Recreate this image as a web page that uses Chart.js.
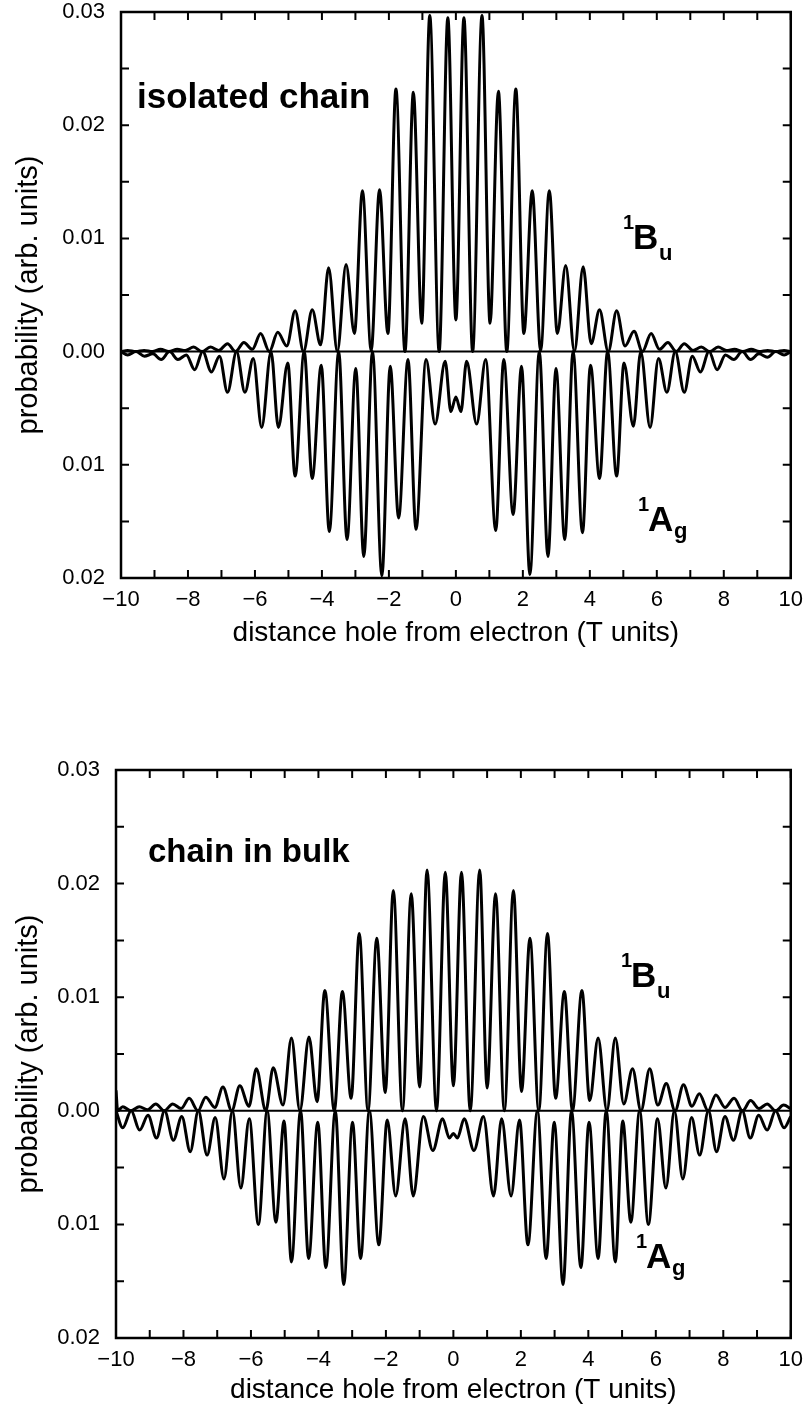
<!DOCTYPE html>
<html>
<head>
<meta charset="utf-8">
<script src="https://cdn.jsdelivr.net/npm/chart.js@4.4.1/dist/chart.umd.min.js"></script>
<style>
  body { margin: 0; background: #fff; width: 812px; height: 1407px; position: relative; overflow: hidden;
         font-family: "Liberation Sans", Arial, Helvetica, sans-serif; }
  .wrap { position: absolute; left: 0; width: 812px; }
  .lbl { position: absolute; font-weight: bold; color: #000; line-height: 1; white-space: nowrap; }
</style>
</head>
<body>
<div class="wrap" style="top:-40px; height:700px;"><canvas id="isoChart"></canvas></div>
<div class="wrap" style="top:720px; height:687px;"><canvas id="bulkChart"></canvas></div>

<div class="lbl" style="left:137px; top:78px; font-size:35px;">isolated chain</div>
<div class="lbl" style="left:623px; top:212px; font-size:20px;">1</div>
<div class="lbl" style="left:633px; top:219px; font-size:35px;">B</div>
<div class="lbl" style="left:659px; top:242px; font-size:22px;">u</div>
<div class="lbl" style="left:638px; top:494px; font-size:20px;">1</div>
<div class="lbl" style="left:648px; top:501px; font-size:35px;">A</div>
<div class="lbl" style="left:674px; top:520px; font-size:22px;">g</div>

<div class="lbl" style="left:148px; top:834px; font-size:33px;">chain in bulk</div>
<div class="lbl" style="left:621px; top:950px; font-size:20px;">1</div>
<div class="lbl" style="left:631px; top:957px; font-size:35px;">B</div>
<div class="lbl" style="left:657px; top:980px; font-size:22px;">u</div>
<div class="lbl" style="left:636px; top:1231px; font-size:20px;">1</div>
<div class="lbl" style="left:646px; top:1238px; font-size:35px;">A</div>
<div class="lbl" style="left:672px; top:1257px; font-size:22px;">g</div>

<script>
// distance values in T units, probabilities read at each peak and trough of the curves

// isolated chain, 1Bu (plotted upward)
const isoBuX = [-10, -9.8, -9.56, -9.31, -9.06, -8.82, -8.57, -8.32, -8.08, -7.83, -7.58, -7.33, -7.08, -6.82, -6.58, -6.33,
  -6.08, -5.83, -5.57, -5.32, -5.05, -4.8, -4.55, -4.29, -4.04, -3.8, -3.54, -3.28, -3.03, -2.79, -2.53, -2.28,
  -2.03, -1.79, -1.52, -1.27, -1.02, -0.78, -0.5, -0.24, 0, 0.24, 0.5, 0.78, 1.02, 1.27, 1.52, 1.79,
  2.03, 2.28, 2.53, 2.79, 3.03, 3.28, 3.54, 3.8, 4.04, 4.29, 4.55, 4.8, 5.05, 5.32, 5.57, 5.83,
  6.08, 6.33, 6.58, 6.82, 7.08, 7.33, 7.58, 7.83, 8.08, 8.32, 8.57, 8.82, 9.06, 9.31, 9.56, 9.8, 10];
const isoBuY = [0, 0.0001, 0, 0.0001, 0, 0.0002, 0, 0.0002, 0.0001, 0.0004, 0, 0.0004, 0.0001, 0.0007, 0, 0.0008,
  0.0002, 0.0016, 0, 0.0017, 0.0005, 0.0036, 0, 0.0037, 0.0006, 0.0074, 0, 0.0077, 0.0016, 0.0142, 0.0001, 0.0143,
  0.0016, 0.0232, 0, 0.0229, 0.0025, 0.0297, 0, 0.0295, 0.0028, 0.0295, 0, 0.0297, 0.0025, 0.023, 0, 0.0232,
  0.0016, 0.0142, 0.0001, 0.0142, 0.0016, 0.0076, 0, 0.0075, 0.0007, 0.0037, 0, 0.0036, 0.0005, 0.0018, 0, 0.0016,
  0.0002, 0.0008, 0, 0.0007, 0.0001, 0.0004, 0, 0.0004, 0.0001, 0.0002, 0, 0.0002, 0, 0.0001, 0, 0.0001, 0];

// isolated chain, 1Ag (plotted downward)
const isoAgX = [-10, -9.8, -9.55, -9.3, -9.05, -8.8, -8.55, -8.3, -8.05, -7.8, -7.56, -7.3, -7.06, -6.82, -6.55, -6.3,
  -6.05, -5.8, -5.52, -5.3, -5.02, -4.8, -4.53, -4.29, -4.02, -3.78, -3.5, -3.25, -2.99, -2.75, -2.49, -2.21,
  -1.96, -1.71, -1.43, -1.19, -0.89, -0.62, -0.32, -0.15, 0, 0.15, 0.32, 0.62, 0.89, 1.19, 1.43, 1.71,
  1.96, 2.21, 2.49, 2.75, 2.99, 3.25, 3.5, 3.78, 4.02, 4.29, 4.53, 4.8, 5.02, 5.3, 5.52, 5.8,
  6.05, 6.3, 6.55, 6.82, 7.06, 7.3, 7.56, 7.8, 8.05, 8.3, 8.55, 8.8, 9.05, 9.3, 9.55, 9.8, 10];
const isoAgY = [0, -0.0003, 0, -0.0004, -0.0002, -0.0007, 0, -0.0007, -0.0003, -0.0016, 0, -0.0018, -0.0004, -0.0036, 0, -0.0036,
  -0.0006, -0.0067, 0, -0.0067, -0.001, -0.011, 0, -0.0112, -0.0012, -0.0159, 0, -0.0166, -0.0015, -0.0181, 0, -0.0198,
  -0.0013, -0.0147, -0.0007, -0.0157, -0.0007, -0.0064, -0.00085, -0.0053, -0.004, -0.0053, -0.00085, -0.0064, -0.0007, -0.0158, -0.0007, -0.0144,
  -0.0013, -0.0197, 0, -0.0181, -0.0015, -0.0166, 0, -0.016, -0.0012, -0.0112, 0, -0.011, -0.001, -0.0066, 0, -0.0067,
  -0.0006, -0.0036, 0, -0.0036, -0.0004, -0.0018, 0, -0.0016, -0.0003, -0.0007, 0, -0.0007, -0.0002, -0.0005, 0, -0.0003, 0];

// chain in bulk, 1Bu
const bulkBuX = [-10, -9.95, -9.8, -9.56, -9.31, -9.06, -8.82, -8.57, -8.32, -8.07, -7.83, -7.57, -7.34, -7.07, -6.83, -6.57,
  -6.33, -6.06, -5.84, -5.56, -5.34, -5.05, -4.8, -4.55, -4.28, -4.04, -3.81, -3.53, -3.29, -3.03, -2.79, -2.53,
  -2.27, -2.02, -1.78, -1.51, -1.25, -1.0, -0.78, -0.5, -0.24, 0, 0.24, 0.5, 0.78, 1.0, 1.25, 1.51,
  1.78, 2.02, 2.27, 2.53, 2.79, 3.03, 3.29, 3.53, 3.81, 4.04, 4.29, 4.55, 4.8, 5.05, 5.31, 5.56,
  5.82, 6.06, 6.31, 6.57, 6.82, 7.07, 7.29, 7.55, 7.78, 8.05, 8.32, 8.57, 8.81, 9.06, 9.3, 9.55, 9.79, 10];
const bulkBuY = [0.0018, 0, 0.00035, 0, 0.00035, 0.0001, 0.0006, 0, 0.0006, 0.0002, 0.0011, 0, 0.0012, 0.0003, 0.0021, 0,
  0.0022, 0.0004, 0.0037, 0, 0.0038, 0.0005, 0.0064, 0, 0.0065, 0.0008, 0.0106, 0, 0.0105, 0.0011, 0.0156, 0,
  0.0152, 0.0016, 0.0194, 0, 0.0191, 0.0021, 0.0212, 0, 0.021, 0.0022, 0.021, 0, 0.0212, 0.002, 0.0191, 0,
  0.0194, 0.0017, 0.0152, 0, 0.0156, 0.0011, 0.0105, 0, 0.0106, 0.0009, 0.0064, 0, 0.0064, 0.0006, 0.0037, 0,
  0.0037, 0.0005, 0.0024, 0, 0.0023, 0.0004, 0.0015, 0, 0.0014, 0.0003, 0.0011, 0, 0.0009, 0.0002, 0.0006, 0, 0.0005, 0.0002];

// chain in bulk, 1Ag
const bulkAgX = [-10, -9.8, -9.55, -9.3, -9.05, -8.8, -8.56, -8.3, -8.05, -7.8, -7.56, -7.3, -7.06, -6.8, -6.55, -6.3,
  -6.05, -5.78, -5.52, -5.26, -5.02, -4.8, -4.53, -4.29, -4.02, -3.78, -3.5, -3.25, -2.99, -2.75, -2.49, -2.21,
  -1.96, -1.71, -1.43, -1.19, -0.89, -0.61, -0.32, -0.12, 0, 0.12, 0.32, 0.61, 0.89, 1.19, 1.43, 1.71,
  1.96, 2.21, 2.49, 2.75, 2.99, 3.25, 3.5, 3.78, 4.02, 4.29, 4.53, 4.8, 5.02, 5.26, 5.52, 5.78,
  6.05, 6.3, 6.55, 6.8, 7.06, 7.3, 7.56, 7.8, 8.05, 8.3, 8.56, 8.8, 9.05, 9.3, 9.55, 9.8, 10];
const bulkAgY = [0, -0.0015, 0, -0.0017, -0.0004, -0.0024, 0, -0.0026, -0.0005, -0.0036, 0, -0.0039, -0.0006, -0.006, 0, -0.0068,
  -0.0007, -0.01, 0, -0.0098, -0.0009, -0.0133, 0, -0.013, -0.001, -0.0138, 0, -0.0153, -0.001, -0.013, 0, -0.0118,
  -0.0008, -0.0075, -0.0007, -0.0075, -0.0005, -0.0035, -0.0007, -0.0024, -0.002, -0.0024, -0.0007, -0.0035, -0.0005, -0.0075, -0.0007, -0.0075,
  -0.0008, -0.0118, 0, -0.013, -0.001, -0.0153, 0, -0.0138, -0.001, -0.013, 0, -0.0133, -0.0009, -0.0098, 0, -0.01,
  -0.0007, -0.0068, 0, -0.006, -0.0006, -0.0039, 0, -0.0036, -0.0005, -0.0026, 0, -0.0024, -0.0004, -0.0017, 0, -0.0015, -0.0005];

const xTicks = [-10, -8, -6, -4, -2, 0, 2, 4, 6, 8, 10];
const yTicks = [0.03, 0.02, 0.01, 0.00, -0.01, -0.02];

const xTitle = 'distance hole from electron (T units)';
const yTitle = 'probability (arb. units)';

const toPoints = (xs, ys) => xs.map((x, i) => ({ x: x, y: ys[i] }));

// inward ticks on all four sides, box and zero line
const frameTicks = {
    id: 'frameTicks',
    afterDatasetsDraw(chart) {
        const { ctx, chartArea: a, scales: { x, y } } = chart;
        ctx.save();
        ctx.strokeStyle = '#000';
        ctx.lineWidth = 2;
        ctx.beginPath();
        const y0 = y.getPixelForValue(0);
        ctx.moveTo(a.left, y0);
        ctx.lineTo(a.right, y0);
        x.ticks.forEach(t => {
            const px = x.getPixelForValue(t.value);
            ctx.moveTo(px, a.bottom); ctx.lineTo(px, a.bottom - 8);
            ctx.moveTo(px, a.top); ctx.lineTo(px, a.top + 8);
        });
        y.ticks.forEach(t => {
            const py = y.getPixelForValue(t.value);
            ctx.moveTo(a.left, py); ctx.lineTo(a.left + 8, py);
            ctx.moveTo(a.right, py); ctx.lineTo(a.right - 8, py);
        });
        ctx.stroke();
        ctx.lineWidth = 2.5;
        ctx.strokeRect(a.left, a.top, a.right - a.left, a.bottom - a.top);
        ctx.restore();
    }
};

const fontFam = '"Liberation Sans", Arial, Helvetica, sans-serif';

function makeChart(id, bu, ag, box) {
    const line = { borderColor: '#000', borderWidth: 3, pointRadius: 0, fill: false, cubicInterpolationMode: 'monotone' };
    return new Chart(document.getElementById(id), {
        type: 'line',
        data: {
            datasets: [
                { label: '1Bu', data: bu, ...line },
                { label: '1Ag', data: ag, ...line }
            ]
        },
        options: {
            responsive: true,
            maintainAspectRatio: false,
            animation: false,
            events: [],
            layout: { padding: { top: box.top, right: box.right, left: 0, bottom: 0 } },
            plugins: { legend: { display: false }, tooltip: { enabled: false } },
            scales: {
                x: {
                    type: 'linear', min: -10, max: 10,
                    afterFit: s => { s.height = box.xh; },
                    grid: { display: false, drawTicks: false },
                    border: { display: false },
                    ticks: {
                        stepSize: 1, autoSkip: false, maxRotation: 0, padding: 9, color: '#000',
                        font: { family: fontFam, size: 22 },
                        callback: v => xTicks.includes(v) ? (v < 0 ? '\u2212' + Math.abs(v) : String(v)) : ''
                    },
                    title: { display: true, text: xTitle, color: '#000', font: { family: fontFam, size: 28 },
                             padding: { top: 0, bottom: box.xtb } }
                },
                y: {
                    min: -0.02, max: 0.03,
                    afterFit: s => { s.width = box.yw; },
                    grid: { display: false, drawTicks: false },
                    border: { display: false },
                    ticks: {
                        stepSize: 0.005, autoSkip: false, padding: 16, color: '#000',
                        font: { family: fontFam, size: 22 },
                        callback: v => yTicks.some(t => Math.abs(t - v) < 1e-9) ? Math.abs(v).toFixed(2) : ''
                    },
                    title: { display: true, text: yTitle, color: '#000', font: { family: fontFam, size: 29 },
                             padding: { top: 12, bottom: 0 } }
                }
            }
        },
        plugins: [frameTicks]
    });
}

makeChart('isoChart', toPoints(isoBuX, isoBuY), toPoints(isoAgX, isoAgY),
    { top: 52, right: 17, yw: 121, xh: 82, xtb: 10 });
makeChart('bulkChart', toPoints(bulkBuX, bulkBuY), toPoints(bulkAgX, bulkAgY),
    { top: 50, right: 20, yw: 116, xh: 69, xtb: 0 });
</script>
</body>
</html>
